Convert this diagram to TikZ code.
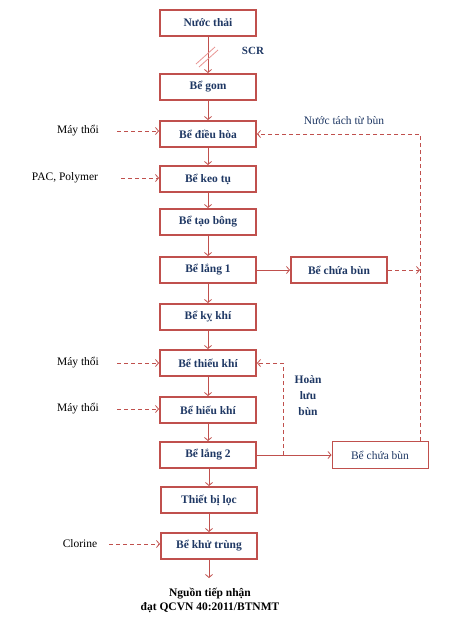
\documentclass[tikz,border=0pt]{standalone}
\usepackage{fontspec}
\setmainfont{Liberation Serif}
\usepackage{tikz}
\usetikzlibrary{arrows.meta, positioning, calc}
\definecolor{boxred}{RGB}{192,80,77}
\definecolor{slashred}{RGB}{232,150,148}
\definecolor{navy}{RGB}{31,56,100}
\tikzset{
  stepbox/.style={rectangle, draw=boxred, line width=2pt,
    minimum width=96pt, minimum height=26pt, inner sep=1pt,
    text=navy, font=\fontsize{11.5}{13}\selectfont\bfseries},
  sidebox/.style={rectangle, draw=boxred, line width=1pt,
    minimum width=96pt, minimum height=27pt, inner sep=1pt,
    text=navy, font=\fontsize{11.5}{13}\selectfont},
  inlabel/.style={font=\fontsize{11.5}{13}\selectfont, inner sep=0pt},
  flowarrow/.style={-{Straight Barb[length=3pt,width=7pt]}, line width=0.8pt, color=boxred},
  dasharrow/.style={-{Straight Barb[length=3pt,width=7pt]}, line width=0.8pt, color=boxred,
    dash pattern=on 4pt off 3pt},
  line/.style={line width=0.8pt, color=boxred}
}
\begin{document}
\begin{tikzpicture}[x=1pt, y=-1pt]
  \useasboundingbox (0,0) rectangle (474,625);
  % Nodes
  \node[stepbox] (nuocthai) at (208,23) {Nước thải};
  \node[stepbox] (begom) at (208,87) {Bể gom};
  \node[stepbox] (dieuhoa) at (208,134) {Bể điều hòa};
  \node[stepbox] (keotu) at (208,179) {Bể keo tụ};
  \node[stepbox] (taobong) at (208,222) {Bể tạo bông};
  \node[stepbox] (lang1) at (208,270) {Bể lắng 1};
  \node[stepbox] (chuabun1) at (339,270) {Bể chứa bùn};
  \node[stepbox] (kykhi) at (208,317) {Bể kỵ khí};
  \node[stepbox] (thieukhi) at (208,363) {Bể thiếu khí};
  \node[stepbox] (hieukhi) at (208,410) {Bể hiếu khí};
  \node[stepbox] (lang2) at (208,455) {Bể lắng 2};
  \node[sidebox] (chuabun2) at (380,455) {Bể chứa bùn};
  \node[stepbox] (loc) at (209,500) {Thiết bị lọc};
  \node[stepbox] (khutrung) at (209,546) {Bể khử trùng};
  \node[font=\fontsize{11.5}{14}\selectfont\bfseries, align=center, inner sep=0pt] (out) at (210,600)
    {Nguồn tiếp nhận\\đạt QCVN 40:2011/BTNMT};

  % Inputs on the left
  \node[inlabel] (may1) at (78,131) {Máy thổi};
  \node[inlabel] (pac) at (65,178) {PAC, Polymer};
  \node[inlabel] (may2) at (78,363) {Máy thổi};
  \node[inlabel] (may3) at (78,409) {Máy thổi};
  \node[inlabel] (clorine) at (80,544) {Clorine};

  % Side labels
  \node[inlabel, text=navy] (tach) at (344,121) {Nước tách từ bùn};
  \node[inlabel, text=navy, font=\fontsize{11.5}{16}\selectfont\bfseries, align=center] (hoanluu) at (308,396) {Hoàn\\lưu\\bùn};
  \node[inlabel, text=navy, font=\fontsize{11}{13}\selectfont\bfseries] (scr) at (253,51) {SCR};

  % Main line
  \draw[flowarrow] (nuocthai) -- (begom);
  \draw[flowarrow] (begom) -- (dieuhoa);
  \draw[flowarrow] (dieuhoa) -- (keotu);
  \draw[flowarrow] (keotu) -- (taobong);
  \draw[flowarrow] (taobong) -- (lang1);
  \draw[flowarrow] (lang1) -- (kykhi);
  \draw[flowarrow] (kykhi) -- (thieukhi);
  \draw[flowarrow] (thieukhi) -- (hieukhi);
  \draw[flowarrow] (hieukhi) -- (lang2);
  \draw[flowarrow] (lang2.south -| loc) -- (loc);
  \draw[flowarrow] (loc) -- (khutrung);
  \draw[flowarrow] (khutrung) -- ++(0,32);

  % SCR marks
  \coordinate (mid) at ($(nuocthai.south)!0.5!(begom.north)$);
  \draw[slashred, line width=0.8pt] ($(mid)+(-12,9)$) -- ($(mid)+(7,-8)$);
  \draw[slashred, line width=0.8pt] ($(mid)+(-9,12)$) -- ($(mid)+(10,-5)$);

  % Sludge lines
  \draw[flowarrow] (lang1) -- (chuabun1);
  \draw[flowarrow] (lang2) -- (chuabun2);
  \coordinate (rtop) at (420,134);
  \coordinate (hl) at (283,455);
  \draw[dasharrow] (chuabun2.north -| rtop) |- (dieuhoa);
  \draw[dasharrow] (chuabun1) -- (chuabun1 -| rtop);
  \draw[dasharrow] (hl) |- (thieukhi);

  % Dashed inputs
  \draw[dasharrow, shorten <=18pt] (may1.east) -- (may1.east -| dieuhoa.west);
  \draw[dasharrow, shorten <=23pt] (pac.east) -- (pac.east -| keotu.west);
  \draw[dasharrow, shorten <=18pt] (may2.east) -- (may2.east -| thieukhi.west);
  \draw[dasharrow, shorten <=18pt] (may3.east) -- (may3.east -| hieukhi.west);
  \draw[dasharrow, shorten <=12pt] (clorine.east) -- (clorine.east -| khutrung.west);
\end{tikzpicture}
\end{document}
